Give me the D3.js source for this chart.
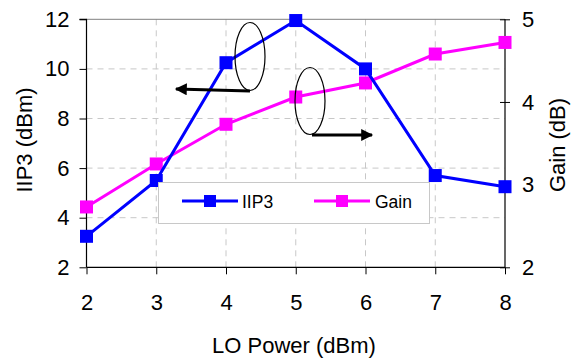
<!DOCTYPE html>
<html><head><meta charset="utf-8">
<script src="https://cdn.jsdelivr.net/npm/d3@7"></script>
<style>body{margin:0;background:#fff}svg{display:block}text{font-family:"Liberation Sans",Arial,sans-serif}</style>
</head><body>
<script>
const loPower = [2, 3, 4, 5, 6, 7, 8];
const iip3 = [3.25, 5.5, 10.25, 11.95, 10.0, 5.7, 5.25];
const gain = [2.73, 3.25, 3.73, 4.06, 4.23, 4.58, 4.72];
const leftTicks = [2, 4, 6, 8, 10, 12];
const rightTicks = [2, 3, 4, 5];
const xTicks = [2, 3, 4, 5, 6, 7, 8];

const W = 571, H = 362;
const svg = d3.select("body").append("svg").attr("width", W).attr("height", H);
const x = d3.scaleLinear().domain([2, 8]).range([86.5, 505]);
const yL = d3.scaleLinear().domain([2, 12]).range([267.3, 19.3]);
const yR = d3.scaleLinear().domain([2, 5]).range([267.3, 19.3]);

// grid
const g = svg.append("g");
g.selectAll(".hg").data([4, 6, 8, 10]).enter().append("line")
  .attr("x1", x(2)).attr("x2", x(8)).attr("y1", d => yL(d)).attr("y2", d => yL(d))
  .attr("stroke", "#c8c8c8").attr("stroke-width", 1).attr("stroke-dasharray", "6,5");
g.selectAll(".vg").data([3, 4, 5, 6, 7]).enter().append("line")
  .attr("x1", d => x(d)).attr("x2", d => x(d)).attr("y1", yL(12)).attr("y2", yL(2))
  .attr("stroke", "#c8c8c8").attr("stroke-width", 1).attr("stroke-dasharray", "6,5");
// top border
svg.append("line").attr("x1", x(2)).attr("x2", x(8)).attr("y1", yL(12)).attr("y2", yL(12))
  .attr("stroke", "#808080").attr("stroke-width", 1);

// axes
const fs = 22;
const fmt = d3.format("d");
const axL = svg.append("g").attr("transform", `translate(${x(2)},0)`)
  .call(d3.axisLeft(yL).tickValues(leftTicks).tickFormat(fmt).tickSize(7).tickPadding(10));
const axB = svg.append("g").attr("transform", `translate(0,${yL(2)})`)
  .call(d3.axisBottom(x).tickValues(xTicks).tickFormat(fmt).tickSize(7).tickPadding(20));
const axR = svg.append("g").attr("transform", `translate(${x(8)},0)`)
  .call(d3.axisRight(yR).tickValues(rightTicks).tickFormat(fmt).tickSize(5).tickPadding(12));
axR.selectAll(".tick line").attr("x1", -5);
[axL, axB, axR].forEach(a => {
  a.select(".domain").attr("stroke", "#000").attr("stroke-width", 1.2);
  a.selectAll(".tick line").attr("stroke", "#000").attr("stroke-width", 1);
  a.selectAll(".tick text").attr("font-size", fs).attr("fill", "#000")
    .attr("font-family", '"Liberation Sans",Arial,sans-serif');
});
axL.select(".domain").attr("d", `M-7,${yL(12)}H0V${yL(2)}`);
axR.select(".domain").attr("d", `M0,${yL(12)}V${yL(2)}`);
axB.select(".domain").attr("d", `M${x(2)},0H${x(8)}`);

// axis titles
svg.append("text").attr("x", 294).attr("y", 353).attr("text-anchor", "middle")
  .attr("font-size", fs).text("LO Power (dBm)");
svg.append("text").attr("transform", `translate(32,140) rotate(-90)`).attr("text-anchor", "middle")
  .attr("font-size", fs).text("IIP3 (dBm)");
svg.append("text").attr("transform", `translate(565,145) rotate(-90)`).attr("text-anchor", "middle")
  .attr("font-size", fs).text("Gain (dB)");

// series
const ms = 13;
function series(vals, yS, color) {
  const pts = loPower.map((d, i) => [x(d), yS(vals[i])]);
  svg.append("path").attr("d", d3.line()(pts)).attr("fill", "none")
    .attr("stroke", color).attr("stroke-width", 3);
  svg.selectAll(null).data(pts).enter().append("rect")
    .attr("x", d => d[0] - ms / 2).attr("y", d => d[1] - ms / 2)
    .attr("width", ms).attr("height", ms).attr("fill", color);
}
series(gain, yR, "#ff00ff");
series(iip3, yL, "#0000ff");

// annotations
svg.append("defs").append("marker").attr("id", "ah").attr("viewBox", "0 0 10 10")
  .attr("refX", 9).attr("refY", 5).attr("markerWidth", 4.5).attr("markerHeight", 4)
  .attr("orient", "auto").append("path").attr("d", "M0,0L10,5L0,10z").attr("fill", "#000");
svg.append("ellipse").attr("cx", 250).attr("cy", 56.5).attr("rx", 15).attr("ry", 34)
  .attr("fill", "none").attr("stroke", "#000").attr("stroke-width", 1.2);
svg.append("line").attr("x1", 250).attr("y1", 91).attr("x2", 176).attr("y2", 89)
  .attr("stroke", "#000").attr("stroke-width", 3).attr("marker-end", "url(#ah)");
svg.append("ellipse").attr("cx", 310).attr("cy", 101).attr("rx", 15).attr("ry", 33.5)
  .attr("fill", "none").attr("stroke", "#000").attr("stroke-width", 1.2);
svg.append("line").attr("x1", 312).attr("y1", 135).attr("x2", 372).attr("y2", 135)
  .attr("stroke", "#000").attr("stroke-width", 3).attr("marker-end", "url(#ah)");

// legend
const lg = svg.append("g");
lg.append("rect").attr("x", 158.5).attr("y", 182.5).attr("width", 271).attr("height", 41)
  .attr("fill", "#fff").attr("stroke", "#c8c8c8").attr("stroke-width", 1);
const items = [
  {name: "IIP3", color: "#0000ff", x0: 182, x1: 238, tx: 242},
  {name: "Gain", color: "#ff00ff", x0: 314, x1: 370, tx: 375}
];
items.forEach(it => {
  lg.append("line").attr("x1", it.x0).attr("x2", it.x1).attr("y1", 201).attr("y2", 201)
    .attr("stroke", it.color).attr("stroke-width", 3);
  lg.append("rect").attr("x", (it.x0 + it.x1) / 2 - 6).attr("y", 195).attr("width", 12).attr("height", 12)
    .attr("fill", it.color);
  lg.append("text").attr("x", it.tx).attr("y", 207.5).attr("font-size", 17.5).text(it.name);
});
</script>
</body></html>
